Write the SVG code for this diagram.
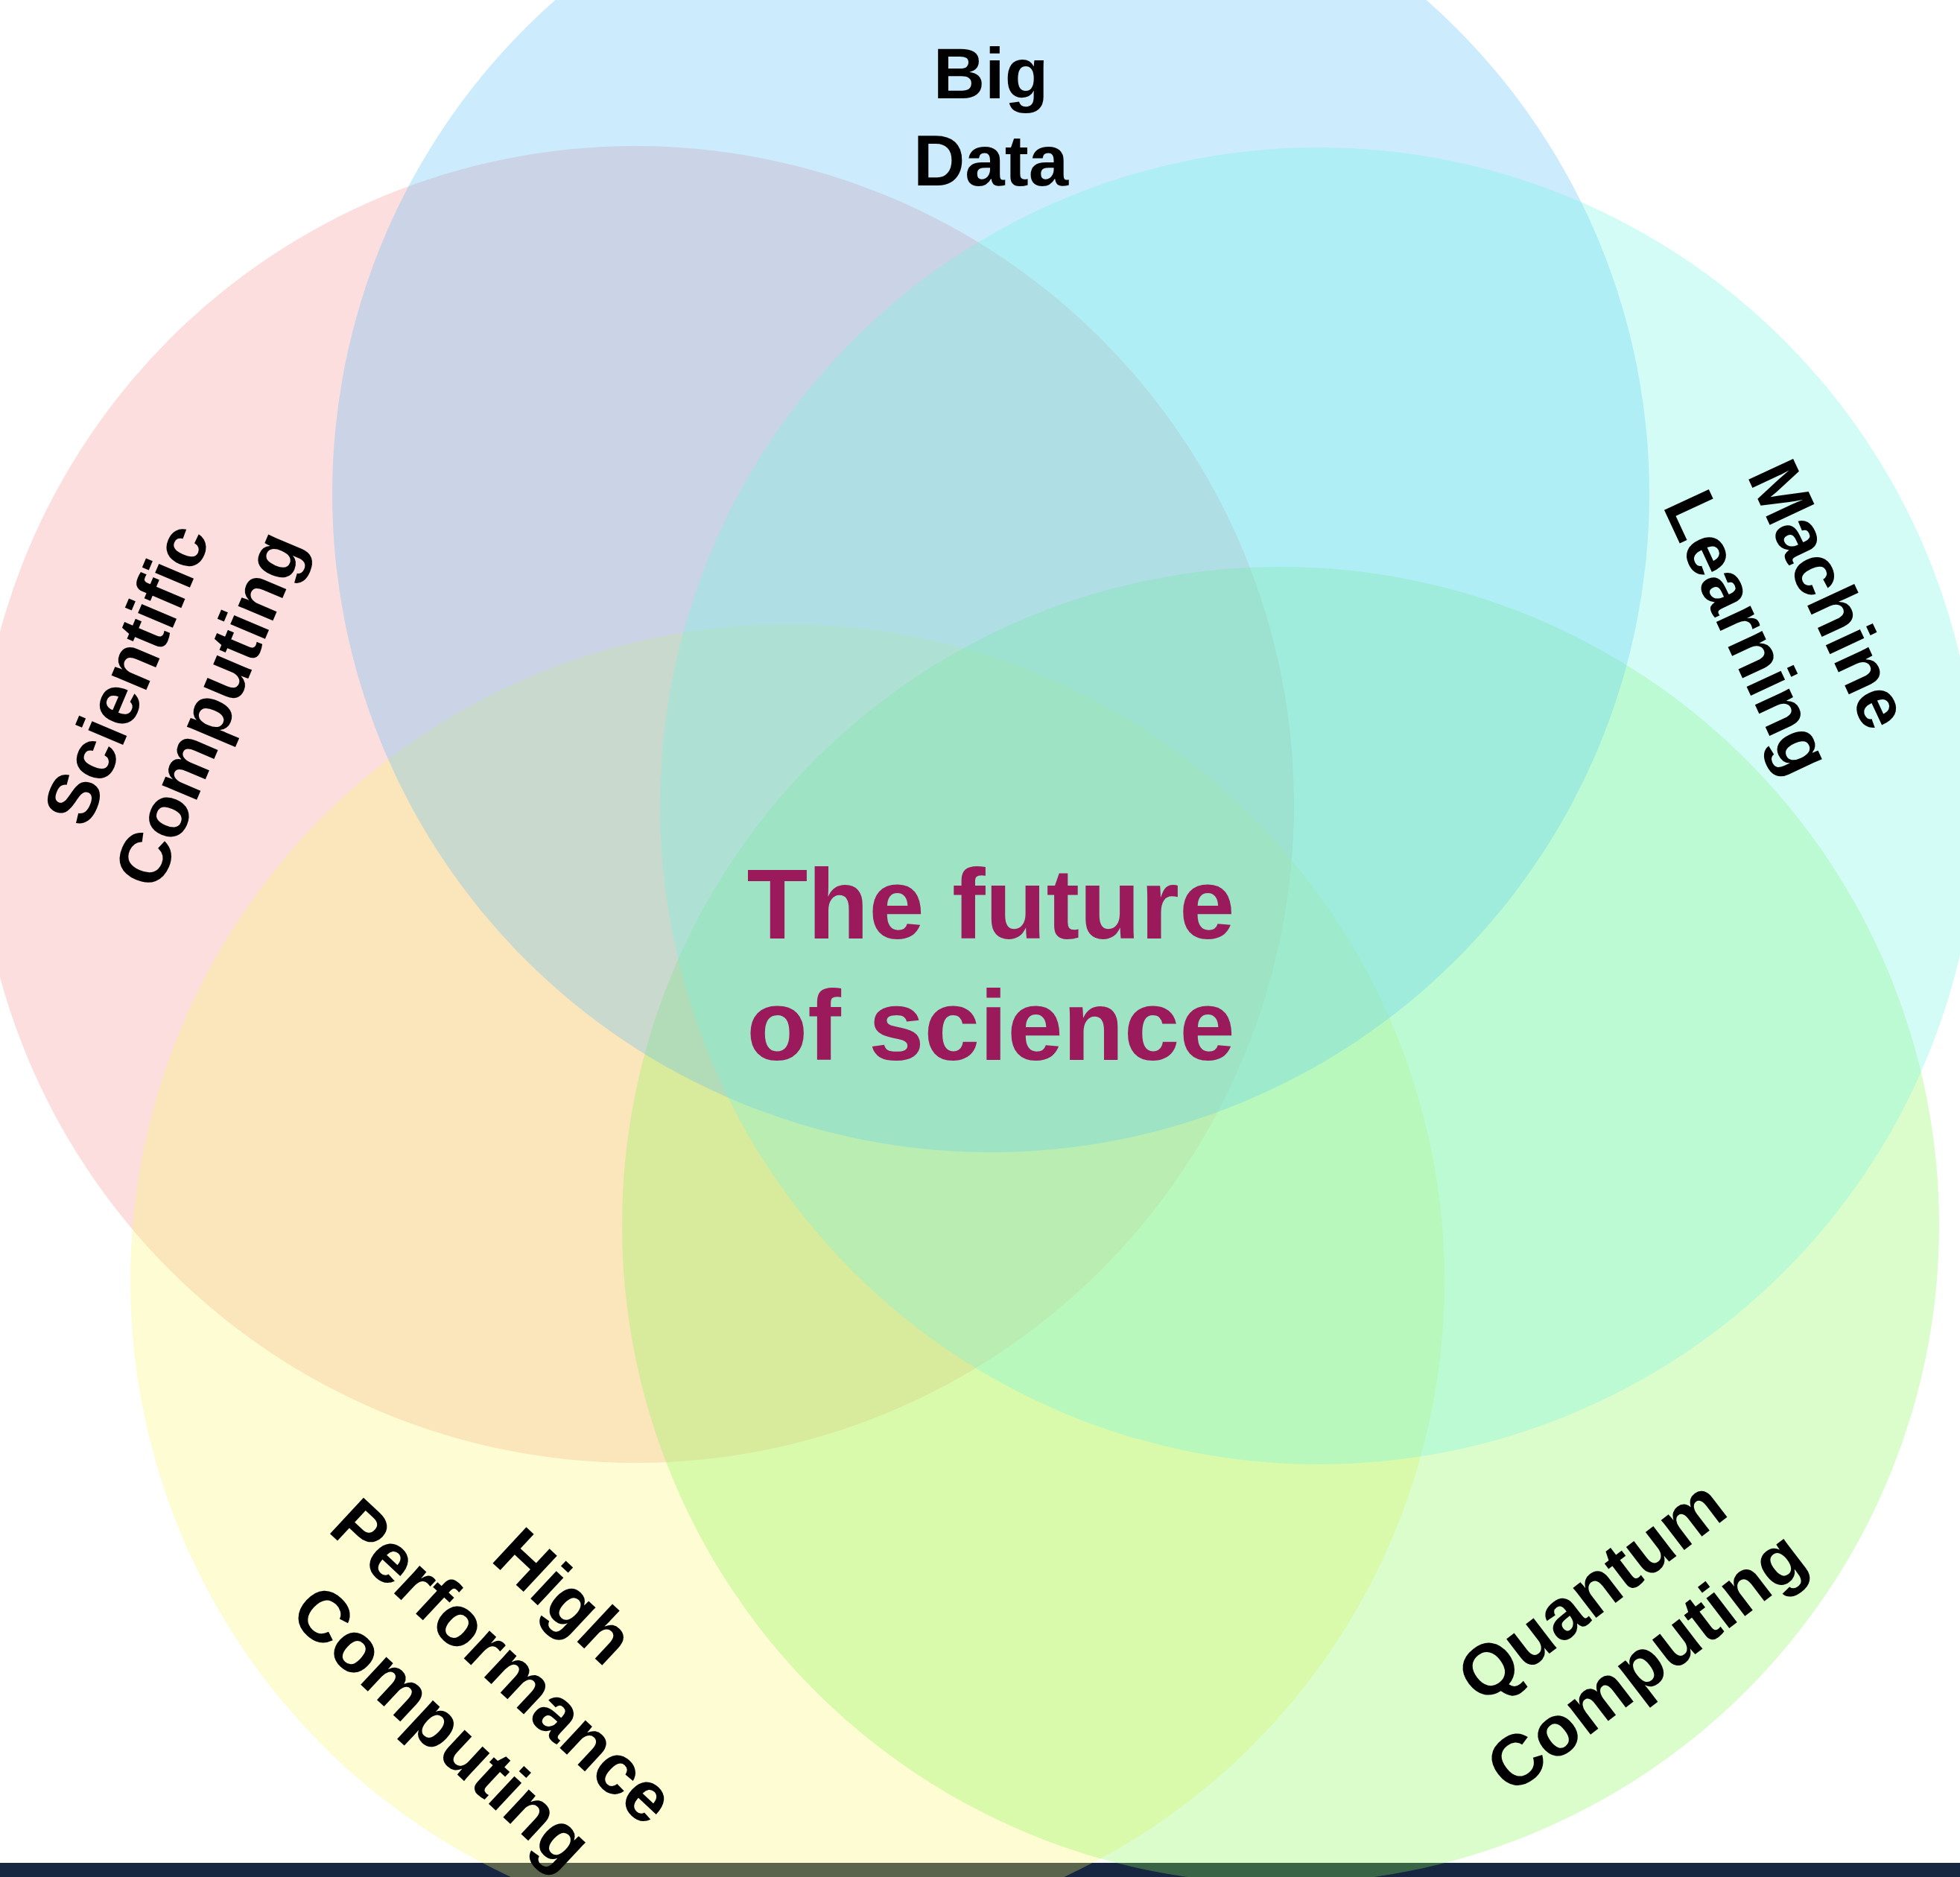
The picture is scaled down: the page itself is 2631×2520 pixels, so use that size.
<svg xmlns="http://www.w3.org/2000/svg" width="2631" height="2520" viewBox="0 0 2631 2520">
  <style>
    .set { fill-opacity: 0.3; }
    .label { font-family: "Liberation Sans", Arial, Helvetica, sans-serif; font-weight: bold; font-size: 96px; fill: #000000; text-anchor: middle; }
    .title { font-family: "Liberation Sans", Arial, Helvetica, sans-serif; font-weight: bold; font-size: 134px; fill: #9a1a5c; text-anchor: middle; }
  </style>

  <rect x="0" y="0" width="2631" height="2520" fill="#ffffff"/>
  <!-- footer band -->
  <rect x="0" y="2501" width="2631" height="19" fill="#172641"/>

  <!-- overlapping sets, drawn back to front -->
  <g id="scientific-computing">
    <circle class="set" cx="853" cy="1080" r="884" fill="#f89191"/>
  </g>
  <g id="high-performance-computing">
    <circle class="set" cx="1057" cy="1720" r="882" fill="#f8f569"/>
  </g>
  <g id="quantum-computing">
    <circle class="set" cx="1719" cy="1645" r="884" fill="#87f552"/>
  </g>
  <g id="big-data">
    <circle class="set" cx="1330" cy="663" r="884" fill="#55bcf8"/>
  </g>
  <g id="machine-learning">
    <circle class="set" cx="1770" cy="1082" r="884" fill="#70f5e4"/>
  </g>

  <!-- set labels -->
  <g id="labels">
    <text class="label" x="1330" y="132">Big</text>
    <text class="label" x="1330" y="249">Data</text>

    <g transform="translate(224 928) rotate(-67)">
      <text class="label" x="0" y="-26">Scientific</text>
      <text class="label" x="0" y="94">Computing</text>
    </g>

    <g transform="translate(2402 823) rotate(65)">
      <text class="label" x="0" y="-26">Machine</text>
      <text class="label" x="0" y="94">Learning</text>
    </g>

    <g transform="translate(676 2230) rotate(43)">
      <text class="label" x="0" y="-86">High</text>
      <text class="label" x="0" y="34">Performance</text>
      <text class="label" x="0" y="154">Computing</text>
    </g>

    <g transform="translate(2172 2182) rotate(-37.5)">
      <text class="label" x="0" y="-26">Quantum</text>
      <text class="label" x="0" y="94">Computing</text>
    </g>
  </g>

  <g id="center-title">
    <text class="title" x="1330" y="1260">The future</text>
    <text class="title" x="1330" y="1423">of science</text>
  </g>
</svg>
